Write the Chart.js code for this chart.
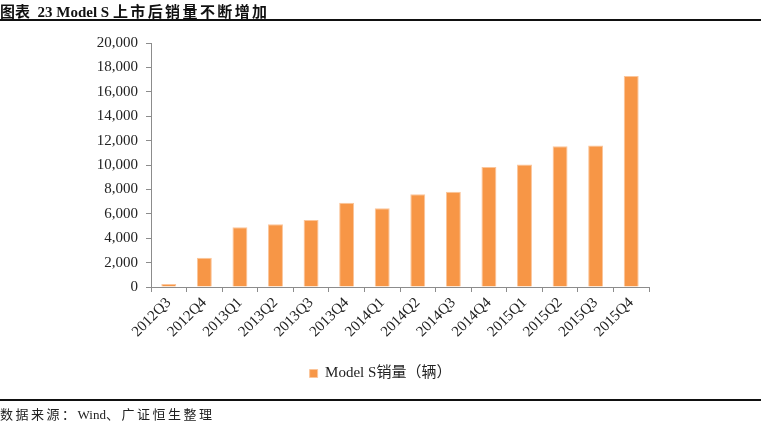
<!DOCTYPE html>
<html>
<head>
<meta charset="utf-8">
<script src="https://cdn.jsdelivr.net/npm/chart.js@4/dist/chart.umd.min.js"></script>
<style>
  html, body { margin: 0; padding: 0; background: #fff; }
  #wrap { position: relative; width: 761px; height: 423px; overflow: hidden; }
  #title { position: absolute; left: 0; top: 0; font: bold 15px "Liberation Serif", "Noto Sans CJK SC", serif; color: #111; white-space: nowrap; }
  #title .cjk { letter-spacing: 2.4px; }
  .rule { position: absolute; left: 0; width: 761px; height: 2px; background: #111; }
  #source { position: absolute; left: 0; top: 404px; font: 13px "Liberation Serif", "Noto Sans CJK SC", serif; letter-spacing: 2.5px; color: #222; white-space: nowrap; }
  #source .latin { letter-spacing: 0; }
  #chartBox { position: absolute; left: 0; top: 0; width: 761px; height: 423px; }
</style>
</head>
<body>
<div id="wrap">
  <div id="chartBox"><canvas id="salesChart" width="761" height="423"></canvas></div>
  <div id="title">图表&nbsp; 23 Model S <span class="cjk">上市后销量不断增加</span></div>
  <div class="rule" style="top:19px"></div>
  <div class="rule" style="top:399px"></div>
  <div id="source">数据来源：<span class="latin">Wind</span>、广证恒生整理</div>
</div>
<script>
// ---- data ----
const quarters = ['2012Q3', '2012Q4', '2013Q1', '2013Q2', '2013Q3', '2013Q4', '2014Q1',
  '2014Q2', '2014Q3', '2014Q4', '2015Q1', '2015Q2', '2015Q3', '2015Q4'];
const modelSSales = [250, 2400, 4900, 5150, 5500, 6900, 6450, 7600, 7800, 9830, 10050, 11530, 11600, 17300];
const seriesLabel = 'Model S销量（辆）';
const yTicks = { min: 0, max: 20000, step: 2000 };

const axisGray = '#8c8c8c';
const tickFont = { family: '"Liberation Serif", "Noto Sans CJK SC", serif', size: 15 };

new Chart(document.getElementById('salesChart'), {
  type: 'bar',
  data: {
    labels: quarters,
    datasets: [{
      label: seriesLabel,
      data: modelSSales,
      backgroundColor: '#f79646',
      borderColor: '#fbc59a',
      borderWidth: 1,
      barPercentage: 0.42,
      categoryPercentage: 1
    }]
  },
  options: {
    responsive: false,
    animation: false,
    layout: { padding: { top: 43, right: 0, bottom: 32, left: 0 } },
    plugins: {
      tooltip: { enabled: false },
      legend: {
        position: 'bottom',
        labels: {
          color: '#222',
          boxWidth: 8,
          boxHeight: 8,
          padding: 8,
          font: { family: '"Liberation Serif", "Noto Sans CJK SC", serif', size: 15 }
        }
      }
    },
    scales: {
      x: {
        offset: true,
        grid: { display: true, offset: true, drawOnChartArea: false, color: axisGray, tickLength: 5 },
        border: { color: axisGray, width: 1 },
        ticks: { color: '#222', font: tickFont, minRotation: 45, maxRotation: 45, padding: 2 },
        afterFit: s => { s.height = 71; }
      },
      y: {
        min: yTicks.min,
        max: yTicks.max,
        grid: { display: true, drawOnChartArea: false, color: axisGray, tickLength: 5 },
        border: { color: axisGray, width: 1 },
        ticks: {
          stepSize: yTicks.step,
          color: '#222',
          font: tickFont,
          padding: 8,
          callback: v => v.toLocaleString('en-US')
        },
        afterFit: s => { s.width = 151; }
      },
      // empty right-hand spacer so the legend centres across the full width
      spacer: {
        type: 'linear',
        position: 'right',
        min: 0,
        max: 1,
        grid: { display: false },
        border: { display: false },
        ticks: { display: false },
        afterFit: s => { s.width = 112; }
      }
    }
  }
});
</script>
</body>
</html>
